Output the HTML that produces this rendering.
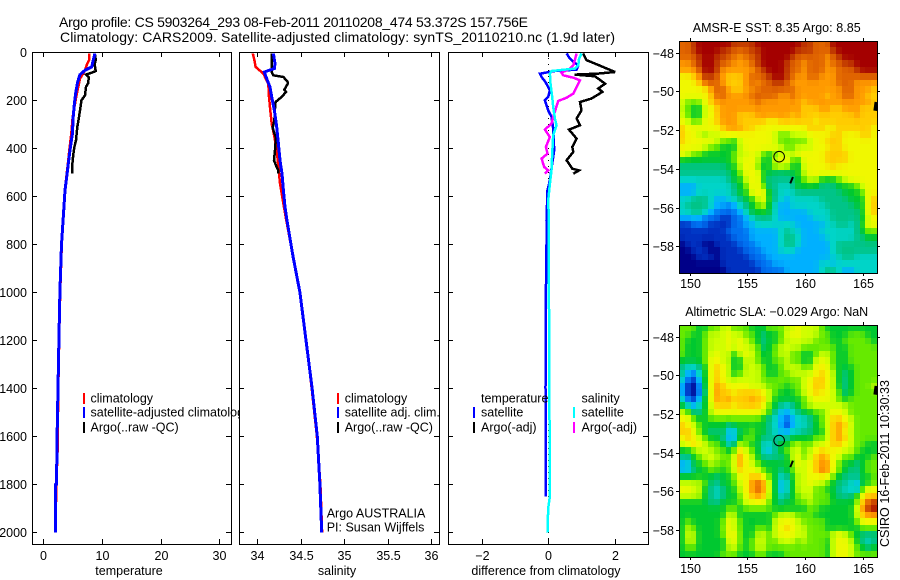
<!DOCTYPE html>
<html lang="en">
<head>
<meta charset="utf-8">
<title>Argo profile CS 5903264_293</title>
<style>
html,body{margin:0;padding:0;background:#fff;}
svg{display:block;}
text{font-family:"Liberation Sans",sans-serif;font-size:12.5px;fill:#000;}
.ttl{font-size:14px;}
.crisp{shape-rendering:crispEdges;}
</style>
</head>
<body>
<svg id="figure" xmlns="http://www.w3.org/2000/svg" width="900" height="580" viewBox="0 0 900 580">
  <rect x="0" y="0" width="900" height="580" fill="#fff"/>
  <text class="ttl" x="59" y="27" textLength="469">Argo profile: CS 5903264_293 08-Feb-2011 20110208_474 53.372S 157.756E</text>
  <text class="ttl" x="60" y="42" textLength="555">Climatology: CARS2009. Satellite-adjusted climatology: synTS_20110210.nc (1.9d later)</text>
</svg>
<script>
/* ---------- tick labels ---------- */
const depthTicks = [0,200,400,600,800,1000,1200,1400,1600,1800,2000];
const tempTicks = [0,10,20,30];
const salTicks = [34,34.5,35,35.5,36];
const diffTicks = [-2,0,2];
const lonTicks = [150,155,160,165];
const latTicks = [-48,-50,-52,-54,-56,-58];

/* ---------- temperature panel ---------- */
const tempClimPres = [5,33,47,75,110,172,214,269,339,408,450,506,547,603,686,800,1000,1150,1400,1670,1800,2000];
const tempClimVals = [7.8,7.8,7.5,7.1,6.25,5.7,5.4,5.0,4.77,4.43,4.26,3.98,3.8,3.58,3.41,3.15,2.88,2.75,2.56,2.42,2.22,2.08];
const tempSatPres = [5,33,61,75,93,124,172,214,269,339,408,464,519,575,686,800,1000,1200,1400,1600,1800,1801,2000];
const tempSatVals = [8.8,8.5,8.24,7.1,6.25,5.85,5.5,5.3,5.1,4.95,4.55,4.26,3.98,3.7,3.41,3.1,2.82,2.65,2.5,2.35,2.25,2.1,2.05];
const tempArgoPres = [5,30,50,78,85,93,103,128,144,179,200,242,283,311,367,394,429,464,506];
const tempArgoVals = [8.75,8.95,8.75,8.92,8.24,7.27,7.73,7.67,7.27,7.1,6.5,6.25,6.0,5.8,5.57,5.3,5.1,4.95,4.95];

/* ---------- salinity panel ---------- */
const salClimPres = [5,33,61,89,131,186,242,297,353,408,478,547,631,693,850,1000,1200,1400,1600,1800,2000];
const salClimVals = [33.948,33.967,33.981,34.07,34.127,34.135,34.15,34.165,34.196,34.223,34.242,34.261,34.3,34.33,34.41,34.49,34.56,34.625,34.685,34.725,34.745];
const salSatPres = [5,47,68,82,110,144,186,242,311,381,450,506,575,644,693,850,1000,1200,1400,1600,1800,2000];
const salSatVals = [34.185,34.204,34.196,34.08,34.108,34.146,34.165,34.196,34.223,34.242,34.261,34.284,34.3,34.318,34.338,34.41,34.49,34.56,34.63,34.69,34.72,34.74];
const salArgoPres = [5,82,96,103,124,131,156,165,186,207,235,283,314,339,353,408,450,478,492,506];
const salArgoVals = [34.165,34.165,34.185,34.3,34.35,34.35,34.31,34.33,34.28,34.21,34.204,34.196,34.177,34.196,34.215,34.204,34.192,34.223,34.242,34.242];

/* ---------- difference panel ---------- */
const diffTempSatPres = [5,26,40,54,72,78,89,103,124,158,186,200,242,269,318,408,464,533,575,700,800,1000,1400,1850];
const diffTempSatVals = [0.553,0.653,0.754,0.905,0.855,0.2,-0.25,-0.2,-0.08,0.05,0,-0.1,0,0.1,0.15,0.18,0.12,0.05,-0.02,-0.05,-0.05,-0.07,-0.08,-0.07];
const diffTempArgoPres = [5,33,50,82,89,93,100,131,151,165,193,207,242,276,304,322,360,394,415,450,485,492,506];
const diffTempArgoVals = [1.05,1.155,1.458,2.01,1.458,0.8,1.407,1.71,1.507,1.63,1.3,0.955,1.0,0.855,0.955,0.625,0.855,0.724,0.754,0.553,0.724,0.925,0.754];
const diffSalSatPres = [5,26,54,68,78,89,131,186,228,276,304,345,422,492,547,617,700,800,1000,1200,1400,1700,1850,1900,2000];
const diffSalSatVals = [1.0,0.93,0.905,0.8,0.1,0.05,0.07,0.12,0.15,0.2,0.25,0.15,0.12,0.1,0.05,0,0.02,0.02,0.02,0.03,0.03,0.05,0.05,0,-0.02];
const diffSalArgoPres = [5,33,54,68,85,96,106,117,144,172,189,203,235,269,297,322,353,394,422,443,478,492,506];
const diffSalArgoVals = [0.855,0.8,0.754,0.653,0.4,0.45,0.754,0.955,0.855,0.754,0.553,0.3,0.23,0.15,0.1,-0.1,0.05,-0.07,-0.02,-0.2,-0.12,0,-0.1];

/* ---------- map fields (colour level per cell, top row first) ---------- */
const sstGrid = [
[12,12,13,14,14,14,14,14,14,13,13,13,13,14,14,14,14,14,14,14,14,13,13,12,12,12,14,14,14,14,14,14,14,14],
[12,12,13,14,14,14,14,13,13,12,12,12,13,13,14,14,14,14,14,14,13,13,13,12,12,12,13,14,14,14,14,14,14,14],
[12,12,12,13,14,14,13,13,12,12,11,12,12,13,14,14,14,14,14,13,12,12,12,12,12,11,12,13,14,14,14,14,14,14],
[11,11,12,13,14,14,13,12,12,11,11,11,12,13,14,14,14,14,13,12,12,11,12,12,12,11,12,12,13,13,14,14,14,14],
[11,11,11,12,14,14,13,11,11,11,11,11,11,12,13,14,14,14,13,12,12,11,12,12,12,11,11,12,12,12,13,14,14,14],
[9,9,10,11,13,13,12,11,10,10,10,11,12,12,12,13,14,14,13,12,11,11,12,12,11,11,11,12,12,12,12,12,12,12],
[9,9,9,10,12,12,12,11,10,10,10,11,12,11,12,12,13,13,12,11,11,11,11,11,11,11,11,12,12,12,11,11,11,11],
[9,9,9,9,9,11,12,12,11,10,10,11,11,12,12,12,12,12,12,12,11,11,11,11,11,11,11,11,12,12,11,11,11,10],
[9,9,9,9,9,10,12,12,11,11,11,11,12,12,12,12,12,11,11,12,11,11,11,11,11,10,11,11,12,12,11,11,10,10],
[8,7,7,7,9,10,11,11,11,11,11,11,11,12,11,11,11,11,11,11,11,10,11,11,11,11,11,11,11,11,11,11,11,10],
[8,7,6,6,8,9,10,11,11,11,11,11,11,11,11,11,11,11,11,11,11,10,10,10,11,11,10,10,11,11,11,10,10,10],
[8,7,6,6,8,9,10,11,11,11,10,10,10,11,11,11,11,11,11,10,11,10,10,10,10,10,10,10,10,10,11,10,10,10],
[9,8,7,7,9,9,10,11,11,11,10,10,10,10,10,9,9,10,10,10,10,10,10,9,10,10,10,10,10,10,10,10,10,10],
[10,9,9,9,9,9,9,10,11,11,11,10,10,9,9,9,9,9,9,9,9,9,10,10,10,9,9,10,10,10,10,10,10,9],
[10,9,9,8,7,8,8,9,9,9,9,9,9,9,9,9,8,7,7,8,8,8,9,9,9,9,10,10,9,9,9,10,10,9],
[10,9,9,9,9,9,8,7,7,6,8,9,9,9,9,9,8,7,7,7,7,7,8,9,9,10,10,10,9,9,9,9,9,9],
[9,9,9,9,8,7,7,6,6,6,8,9,9,9,9,9,9,8,7,7,8,8,8,9,9,9,10,10,9,9,9,9,9,9],
[9,8,7,7,6,6,6,6,6,7,8,8,9,8,7,6,7,8,8,8,9,9,9,9,9,10,10,10,10,9,9,9,9,9],
[6,6,6,6,6,6,6,6,6,7,8,9,9,8,6,6,8,9,9,7,6,9,9,9,9,10,10,10,10,9,9,9,9,9],
[5,5,5,5,5,5,5,5,6,6,8,9,9,7,6,6,8,8,8,6,6,8,9,9,9,9,10,9,9,9,9,9,9,9],
[5,5,5,5,5,5,5,5,5,6,7,9,9,9,6,6,5,5,5,6,6,8,9,9,9,9,9,9,9,9,9,9,9,9],
[4,4,4,4,4,4,4,4,5,6,6,8,9,9,6,5,5,5,5,5,6,7,8,8,6,6,6,7,8,9,9,9,9,9],
[3,3,3,4,4,4,4,4,4,5,6,7,9,9,7,5,5,4,4,5,6,6,6,6,5,5,5,6,6,6,7,8,9,9],
[3,3,3,4,4,4,4,4,4,5,6,6,9,9,9,6,5,4,4,4,5,5,5,5,5,5,5,5,6,6,6,7,9,9],
[4,4,5,5,5,4,3,3,4,4,5,6,6,8,9,6,5,4,3,4,4,4,4,4,5,5,5,5,5,6,6,6,9,10],
[4,5,5,5,5,4,3,3,2,3,4,5,6,7,8,6,4,3,3,4,4,4,4,4,4,5,5,5,5,5,6,6,9,10],
[4,4,5,5,4,3,2,2,2,2,3,4,6,6,6,6,4,3,3,3,3,3,4,4,4,4,5,5,5,5,5,6,9,10],
[3,3,3,3,2,2,2,1,1,2,2,3,4,5,5,5,4,3,3,3,3,3,3,4,4,4,5,5,5,5,5,6,8,9],
[1,1,2,2,2,1,1,1,1,2,2,3,3,4,4,4,4,4,4,4,3,3,3,3,3,4,4,5,5,4,5,6,9,9],
[1,1,1,1,1,1,1,1,2,2,2,2,3,3,3,3,3,4,5,4,4,3,3,3,4,4,4,4,4,4,5,6,7,7],
[1,1,1,1,1,1,1,1,1,2,2,2,3,3,3,3,3,4,5,5,4,3,3,3,3,4,4,4,4,4,5,5,6,6],
[0,1,1,1,0,0,1,1,1,1,2,2,2,3,3,3,3,4,5,5,4,3,3,3,3,3,4,5,5,5,5,5,5,5],
[0,0,1,1,1,0,0,1,1,1,1,2,2,2,3,3,3,4,4,4,3,3,3,3,3,3,4,5,5,5,5,5,5,5],
[0,0,0,1,1,1,0,1,1,1,1,1,2,2,2,3,3,3,3,3,3,3,3,3,3,3,4,4,5,5,4,4,4,4],
[0,0,0,0,0,0,0,1,1,1,1,1,1,2,2,2,3,3,3,3,3,3,3,3,4,4,3,4,4,4,4,4,4,4],
[0,0,0,0,0,0,0,0,1,1,1,1,1,1,2,2,2,2,3,3,3,3,3,3,4,5,5,4,3,3,4,4,4,4]
];
const slaGrid = [
[7,7,7,6,6,7,7,8,8,7,7,7,6,6,6,7,7,7,8,8,9,8,8,8,7,6,6,6,6,6,6,6,6,6],
[7,7,6,6,7,8,8,8,9,8,8,7,7,6,5,6,6,7,8,9,9,8,8,8,7,7,6,6,6,7,7,7,6,6],
[7,6,6,6,7,8,8,8,9,8,9,8,7,6,5,6,6,7,8,8,8,8,8,7,7,7,6,6,7,7,7,7,7,6],
[7,6,6,6,7,8,8,8,9,8,9,8,8,7,5,6,7,8,8,8,8,7,7,7,7,7,7,6,6,7,7,7,7,7],
[7,6,6,6,7,8,9,8,8,6,8,9,8,7,6,6,7,8,8,7,7,6,6,7,8,8,7,6,6,7,7,7,7,7],
[6,6,6,6,7,9,9,8,8,6,6,8,8,7,6,6,7,7,8,7,7,6,6,8,9,8,7,6,6,7,7,7,7,7],
[5,4,4,5,6,9,10,9,8,6,6,8,8,8,7,6,6,7,8,8,8,7,7,9,9,9,7,6,6,6,7,7,7,7],
[5,3,2,4,6,9,10,9,8,6,7,8,8,8,7,6,6,7,7,8,8,8,8,9,10,9,8,6,5,6,7,7,7,7],
[4,2,1,3,6,9,10,9,8,8,8,8,8,8,7,7,7,7,7,7,7,8,9,10,10,9,8,6,5,6,7,7,7,7],
[3,1,0,2,6,9,11,10,9,9,9,9,8,8,8,7,7,7,6,7,7,8,9,10,10,9,8,6,5,6,7,7,7,8],
[3,1,0,2,5,9,11,10,10,9,10,10,10,10,9,8,7,6,6,6,7,8,9,10,9,9,8,7,5,6,7,7,7,7],
[4,2,1,3,6,9,11,10,11,10,10,10,11,10,10,8,6,6,6,6,6,7,8,9,9,9,8,7,6,7,7,7,7,7],
[6,4,3,4,6,8,10,10,10,9,10,10,10,10,9,7,6,5,4,5,6,7,8,8,8,8,8,8,8,7,7,7,7,7],
[8,7,5,5,6,8,9,9,9,9,9,9,9,9,8,7,5,3,3,4,5,6,6,7,7,8,9,9,8,7,7,7,7,7],
[9,9,7,6,6,7,7,7,7,7,7,7,7,7,6,5,4,3,2,3,4,4,5,6,7,8,10,10,9,8,7,7,7,7],
[10,9,8,7,6,6,6,6,5,6,6,6,6,6,6,5,4,3,1,3,4,4,5,6,7,8,10,11,10,8,7,7,7,7],
[10,10,9,7,6,5,5,6,3,3,6,6,7,6,6,5,4,3,3,4,4,5,5,6,6,8,10,11,9,8,7,7,7,7],
[9,10,9,8,7,6,6,5,3,3,6,7,7,6,5,5,5,5,5,6,6,6,6,7,7,8,10,11,10,8,7,7,7,7],
[8,9,10,9,8,7,7,6,4,5,8,7,6,6,4,4,5,6,6,7,8,7,7,8,8,9,10,10,9,8,7,7,6,6],
[6,6,7,8,8,8,7,7,6,7,10,8,7,6,4,3,5,6,7,8,8,7,8,9,10,9,9,9,8,8,7,6,6,6],
[5,5,6,7,8,8,8,7,7,8,11,9,8,6,5,5,5,5,6,8,9,7,8,10,11,10,9,8,7,7,6,6,6,7],
[3,3,6,6,7,8,7,7,7,8,11,9,8,7,6,6,6,6,6,7,9,8,9,10,11,11,9,7,6,6,5,6,7,7],
[3,3,5,6,6,7,7,6,7,8,10,9,9,8,7,6,6,5,6,7,8,8,9,10,12,11,9,7,6,5,5,6,7,7],
[6,6,6,6,6,6,5,6,6,7,9,9,10,10,9,7,6,4,5,6,8,8,9,9,9,9,7,6,5,5,5,6,6,7],
[8,8,8,8,7,5,5,6,6,7,8,9,11,12,11,8,6,3,4,6,8,8,9,8,8,7,6,5,5,4,3,6,6,7],
[9,9,8,8,6,5,4,5,6,6,8,9,11,12,11,8,6,3,4,6,8,8,8,7,7,6,6,5,4,4,3,7,9,9],
[8,8,8,8,6,5,4,5,6,6,7,9,10,11,10,8,6,4,5,6,7,8,8,7,7,7,6,5,5,5,7,9,10,10],
[6,6,6,6,6,5,5,6,6,6,7,8,9,9,9,7,6,5,6,6,7,7,8,7,7,7,6,6,6,6,7,10,12,13],
[6,6,6,6,6,6,6,6,7,7,6,7,7,7,7,7,6,6,6,6,6,6,7,7,6,6,6,6,6,6,8,11,13,14],
[6,6,6,6,6,6,6,6,8,8,6,6,6,6,6,6,7,8,8,8,7,7,7,6,6,6,6,6,6,6,8,10,11,11],
[6,7,6,6,6,6,6,7,9,8,7,6,6,6,6,6,8,9,9,9,8,7,7,7,7,6,6,6,6,6,7,9,9,9],
[6,8,7,6,6,6,6,7,9,8,7,6,6,7,7,6,8,9,10,9,8,8,7,7,7,6,6,6,6,6,6,7,7,7],
[6,8,8,6,6,6,6,7,9,9,7,6,6,8,8,7,8,9,9,9,8,8,7,7,7,7,8,9,8,7,6,5,5,5],
[6,8,8,6,6,6,6,6,8,9,7,6,7,8,8,7,7,8,8,8,7,8,7,7,7,6,8,9,9,8,6,5,4,5],
[6,7,7,6,6,6,6,6,8,8,7,6,7,8,8,7,7,7,7,7,7,7,7,7,7,6,8,9,9,8,7,6,5,6],
[6,6,6,6,6,6,6,7,7,7,6,6,6,7,7,6,6,6,7,7,7,7,7,7,7,6,8,9,9,8,7,7,7,7]
];
const floatLon = [157.756];
const floatLat = [-53.372];
const trackLon = [158.72,158.95];
const trackLat = [-54.75,-54.42];
const blobLon = [166.1,166.2];
const blobLat = [-51.0,-50.55];

/* ---------- helpers ---------- */
const NS = 'http://www.w3.org/2000/svg';
const svg = document.getElementById('figure');
const levelColors = [[0,0,136],[0,48,192],[0,112,240],[0,176,255],[0,212,200],[0,196,136],[0,200,48],[102,234,0],[204,255,0],[240,248,0],[255,204,0],[255,154,0],[224,100,0],[192,56,0],[164,0,0]];

function make(tag, attrs, parent) {
  const n = document.createElementNS(NS, tag);
  for (const k in attrs) n.setAttribute(k, attrs[k]);
  (parent || svg).appendChild(n);
  return n;
}
function linear(d0, r0, d1, r1) {
  return function (v) { return r0 + (v - d0) * (r1 - r0) / (d1 - d0); };
}
function tickLabel(v) {
  return String(v).replace('-', '\u2212');
}
function px(v) { return Math.round(v) + 0.5; }
function levelColor(v) {
  const lo = Math.max(0, Math.min(levelColors.length - 1, Math.floor(v)));
  const hi = Math.min(levelColors.length - 1, lo + 1);
  const f = Math.max(0, Math.min(1, v - lo));
  const a = levelColors[lo], b = levelColors[hi];
  return 'rgb(' + [0, 1, 2].map(function (i) { return Math.round(a[i] + (b[i] - a[i]) * f); }).join(',') + ')';
}
/* light 5-point blend of a cell with its neighbours, so colour bands read as in the source image */
function blendedLevel(grid, r, c) {
  const row = grid[r];
  const up = grid[Math.max(0, r - 1)][c];
  const down = grid[Math.min(grid.length - 1, r + 1)][c];
  const left = row[Math.max(0, c - 1)];
  const right = row[Math.min(row.length - 1, c + 1)];
  return (row[c] * 4 + up + down + left + right) / 8;
}

/* ---------- profile panels ---------- */
const BOX_TOP = 52, BOX_BOTTOM = 544;
const yDepth = linear(0, 52.3, 2000, 532.3);

function frame(g, left, right, top, bottom) {
  const box = make('rect', {x: left + 0.5, y: top + 0.5, width: right - left, height: bottom - top, fill: 'none', stroke: '#000', 'stroke-width': 1, 'class': 'crisp'}, g);
  
  
}
function profilePanel(name, left, right, xScale, xTicks, xTitle, xTitleCenter, showDepth) {
  const g = make('g', {}, svg);
  
  
  const bg = make('rect', {x: left, y: BOX_TOP, width: right - left + 1, height: BOX_BOTTOM - BOX_TOP + 1, fill: '#fff'}, g);
  
  
  return {g: g, left: left, right: right, xScale: xScale, xTicks: xTicks, xTitle: xTitle, xTitleCenter: xTitleCenter, showDepth: showDepth, name: name};
}
function drawSeries(panel, pres, vals, color, label, width) {
  const pts = pres.map(function (p, i) { return panel.xScale(vals[i]).toFixed(1) + ',' + yDepth(p).toFixed(1); }).join(' ');
  const line = make('polyline', {points: pts, fill: 'none', stroke: color, 'stroke-width': width || 2.5, 'class': 'crisp'}, panel.g);
  
  
}
function finishPanel(p) {
  frame(p.g, p.left, p.right, BOX_TOP, BOX_BOTTOM);
  depthTicks.forEach(function (d) {
    const y = px(yDepth(d));
    const t1 = make('line', {x1: p.left, x2: p.left + 5, y1: y, y2: y, stroke: '#000', 'class': 'crisp'}, p.g);
    
    
    const t2 = make('line', {x1: p.right, x2: p.right - 5, y1: y, y2: y, stroke: '#000', 'class': 'crisp'}, p.g);
    
    
    if (p.showDepth) {
      const lab = make('text', {x: 27, y: y + 4.5, 'text-anchor': 'end'}, p.g);
      
      
      lab.textContent = d;
    }
  });
  p.xTicks.forEach(function (v) {
    const x = px(p.xScale(v));
    const t1 = make('line', {x1: x, x2: x, y1: BOX_BOTTOM, y2: BOX_BOTTOM - 5, stroke: '#000', 'class': 'crisp'}, p.g);
    
    
    const t2 = make('line', {x1: x, x2: x, y1: BOX_TOP, y2: BOX_TOP + 5, stroke: '#000', 'class': 'crisp'}, p.g);
    
    
    const lab = make('text', {x: x, y: 560, 'text-anchor': 'middle'}, p.g);
    
    
    lab.textContent = tickLabel(v);
  });
  const xt = make('text', {x: p.xTitleCenter, y: 575, 'text-anchor': 'middle'}, p.g);
  
  
  xt.textContent = p.xTitle;
}
function legendEntry(p, markerX, textX, rowY, color, label) {
  if (color) {
    const m = make('rect', {x: markerX, y: rowY - 5, width: 2, height: 11, fill: color, 'class': 'crisp'}, p.g);
    
    
  }
  const t = make('text', {x: textX, y: rowY + 4.5}, p.g);
  
  
  t.textContent = label;
}

/* temperature */
const tempPanel = profilePanel('temperature', 32, 231, linear(0, 43.3, 30, 219.4), tempTicks, 'temperature', 129, true);
drawSeries(tempPanel, tempClimPres, tempClimVals, '#f00', 'temperature-climatology-line');
drawSeries(tempPanel, tempArgoPres, tempArgoVals, '#000', 'temperature-argo-line');
drawSeries(tempPanel, tempSatPres, tempSatVals, '#00f', 'temperature-satellite-line', 3);
finishPanel(tempPanel);
legendEntry(tempPanel, 83, 90.5, 398, '#f00', 'climatology');
legendEntry(tempPanel, 83, 90.5, 412, '#00f', 'satellite-adjusted climatology');
legendEntry(tempPanel, 83, 90.5, 427, '#000', 'Argo(..raw -QC)');

/* salinity */
const salPanel = profilePanel('salinity', 239, 439, linear(34, 257.3, 36, 431.3), salTicks, 'salinity', 337, false);
drawSeries(salPanel, salClimPres, salClimVals, '#f00', 'salinity-climatology-line');
drawSeries(salPanel, salArgoPres, salArgoVals, '#000', 'salinity-argo-line');
drawSeries(salPanel, salSatPres, salSatVals, '#00f', 'salinity-satellite-line', 3);
finishPanel(salPanel);
legendEntry(salPanel, 337, 344.7, 398, '#f00', 'climatology');
legendEntry(salPanel, 337, 344.7, 412, '#00f', 'satellite adj. clim.');
legendEntry(salPanel, 337, 344.7, 427, '#000', 'Argo(..raw -QC)');
legendEntry(salPanel, 0, 326.7, 513, null, 'Argo AUSTRALIA');
legendEntry(salPanel, 0, 326.7, 527, null, 'PI: Susan Wijffels');

/* difference */
const diffScale = linear(-2, 481.7, 2, 614.7);
const diffPanel = profilePanel('difference', 448, 648, diffScale, diffTicks, 'difference from climatology', 546, false);
const zeroLine = make('line', {x1: px(diffScale(0)), x2: px(diffScale(0)), y1: BOX_TOP, y2: BOX_BOTTOM, stroke: '#000', 'stroke-dasharray': '1 5', 'class': 'crisp'}, diffPanel.g);


drawSeries(diffPanel, diffTempArgoPres, diffTempArgoVals, '#000', 'difference-temperature-argo-line');
drawSeries(diffPanel, diffTempSatPres, diffTempSatVals, '#00f', 'difference-temperature-satellite-line');
drawSeries(diffPanel, diffSalArgoPres, diffSalArgoVals, '#f0f', 'difference-salinity-argo-line');
drawSeries(diffPanel, diffSalSatPres, diffSalSatVals, '#0ff', 'difference-salinity-satellite-line');
finishPanel(diffPanel);
legendEntry(diffPanel, 0, 481, 398, null, 'temperature');
legendEntry(diffPanel, 473, 481, 412, '#00f', 'satellite');
legendEntry(diffPanel, 473, 481, 427, '#000', 'Argo(-adj)');
legendEntry(diffPanel, 0, 581.5, 398, null, 'salinity');
legendEntry(diffPanel, 573, 581.5, 412, '#0ff', 'satellite');
legendEntry(diffPanel, 573, 581.5, 427, '#f0f', 'Argo(-adj)');

/* ---------- maps ---------- */
function mapPanel(name, grid, left, right, top, bottom, xOf, yOf, titleText, titleWidth, titleY, labelY) {
  const g = make('g', {}, svg);
  
  
  const rows = grid.length;
  const lonL = 150 + (left - xOf(150)) / (xOf(151) - xOf(150));
  const lonR = 150 + (right - xOf(150)) / (xOf(151) - xOf(150));
  const latT = -48 + (top - yOf(-48)) / (yOf(-49) - yOf(-48)) * -1;
  const latB = -48 + (bottom - yOf(-48)) / (yOf(-49) - yOf(-48)) * -1;
  grid.forEach(function (row, r) {
    const y0 = Math.round(yOf(latT + (latB - latT) * r / rows));
    const y1 = Math.round(yOf(latT + (latB - latT) * (r + 1) / rows));
    row.forEach(function (level, c) {
      const x0 = Math.round(xOf(lonL + (lonR - lonL) * c / row.length));
      const x1 = Math.round(xOf(lonL + (lonR - lonL) * (c + 1) / row.length));
      const cell = make('rect', {x: x0, y: y0, width: x1 - x0, height: y1 - y0, fill: levelColor(blendedLevel(grid, r, c)), 'class': 'crisp'}, g);
      
      
    });
  });
  const clipId = name + '-clip';
  const clip = make('clipPath', {id: clipId}, g);
  make('rect', {x: left, y: top, width: right - left, height: bottom - top}, clip);
  const blob = make('polyline', {points: blobLon.map(function (v, i) { return xOf(v) + ',' + yOf(blobLat[i]); }).join(' '), fill: 'none', stroke: '#000', 'stroke-width': 4, 'clip-path': 'url(#' + clipId + ')'}, g);
  
  
  const track = make('polyline', {points: trackLon.map(function (v, i) { return xOf(v) + ',' + yOf(trackLat[i]); }).join(' '), fill: 'none', stroke: '#000', 'stroke-width': 2}, g);
  
  
  const dot = make('circle', {cx: xOf(floatLon[0]), cy: yOf(floatLat[0]), r: 5.3, fill: 'none', stroke: '#000', 'stroke-width': 1}, g);
  
  
  const box = make('rect', {x: left + 0.5, y: top + 0.5, width: right - left, height: bottom - top, fill: 'none', stroke: '#000', 'class': 'crisp'}, g);
  
  
  lonTicks.forEach(function (v) {
    const x = px(xOf(v));
    const t1 = make('line', {x1: x, x2: x, y1: top, y2: top - 3, stroke: '#000', 'class': 'crisp'}, g);
    
    
    const t2 = make('line', {x1: x, x2: x, y1: bottom, y2: bottom + 3, stroke: '#000', 'class': 'crisp'}, g);
    
    
    const lab = make('text', {x: x, y: labelY, 'text-anchor': 'middle'}, g);
    
    
    lab.textContent = v;
  });
  latTicks.forEach(function (v) {
    const y = px(yOf(v));
    const t1 = make('line', {x1: left, x2: left - 3, y1: y, y2: y, stroke: '#000', 'class': 'crisp'}, g);
    
    
    const t2 = make('line', {x1: right, x2: right + 3, y1: y, y2: y, stroke: '#000', 'class': 'crisp'}, g);
    
    
    const lab = make('text', {x: 674, y: y + 4.5, 'text-anchor': 'end'}, g);
    
    
    lab.textContent = tickLabel(v);
  });
  const title = make('text', {x: 776.7 - titleWidth / 2, y: titleY, textLength: titleWidth}, g);
  
  
  title.textContent = titleText;
}
mapPanel('sst', sstGrid, 679, 877, 41, 273, linear(150, 689.7, 165, 862.7), linear(-48, 52.7, -58, 246.3), 'AMSR-E SST: 8.35 Argo: 8.85', 168, 32, 288);
mapPanel('sla', slaGrid, 679, 877, 325, 557, linear(150, 689.7, 165, 862.7), linear(-48, 336.7, -58, 530), 'Altimetric SLA: \u22120.029 Argo: NaN', 183, 316, 573);

const stamp = make('text', {x: 889, y: 547, transform: 'rotate(-90 889 547)', textLength: 167}, svg);


stamp.textContent = 'CSIRO 16-Feb-2011 10:30:33';
</script>
</body>
</html>
